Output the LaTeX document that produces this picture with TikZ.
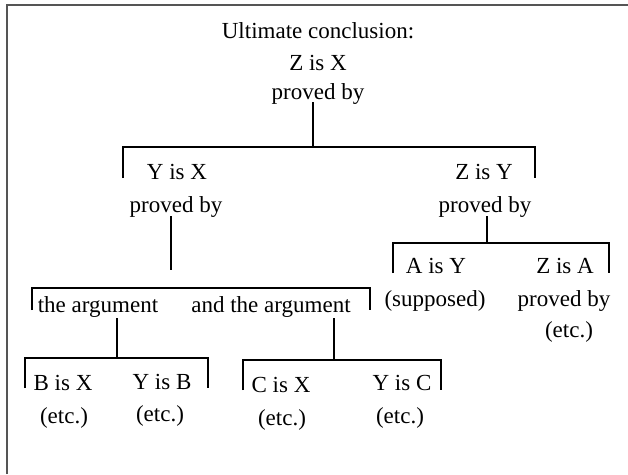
\documentclass[tikz,border=0pt]{standalone}
\usepackage{fontspec}
\setmainfont{Liberation Serif}
\usetikzlibrary{positioning}
\definecolor{framegray}{RGB}{85,85,85}

\begin{document}
\begin{tikzpicture}[x=1pt,y=-1pt]
  \tikzstyle{lbl}=[inner sep=0pt,anchor=base,font=\fontsize{23}{28}\selectfont]
  \tikzstyle{br}=[black,line width=2pt]
  \useasboundingbox (0,0) rectangle (628,474);

  % -- frame --
  \draw[framegray,line width=2.5pt] (7,474) -- (7,5) -- (628,5);

  % -- ultimate conclusion --
  \node[lbl] (ult) at (318,38) {Ultimate conclusion:};
  \node[lbl] (zx) at (318,70) {Z is X};
  \node[lbl] (zxby) at (318,99) {proved by};
  \coordinate (top1) at (123,147);
  \coordinate (top2) at (535,147);
  \draw[br] (top1 -| 313,0) ++(0,-45) -- (top1 -| 313,0);
  \draw[br] (top1) ++(0,31) -- (top1) -- (top2) -- ++(0,31);

  % -- Y is X --
  \node[lbl] (yx) at (177,179) {Y is X};
  \node[lbl] (yxby) at (176,212) {proved by};
  \coordinate (gap) at (171,270);
  \draw[br] (gap |- yxby.base) ++(0,4) -- (gap);

  % -- Z is Y --
  \node[lbl] (zy) at (484,179) {Z is Y};
  \node[lbl] (zyby) at (485,212) {proved by};
  \coordinate (zyl) at (393,243);
  \coordinate (zyr) at (609,243);
  \draw[br] (zyl -| 487,0) ++(0,-27) -- (zyl -| 487,0);
  \draw[br] (zyl) ++(0,30) -- (zyl) -- (zyr) -- ++(0,30);
  \node[lbl] (ay) at (436,273) {A is Y};
  \node[lbl] (aysup) at (435,306) {(supposed)};
  \node[lbl] (za) at (565,273) {Z is A};
  \node[lbl] (zaby) at (564,306) {proved by};
  \node[lbl] (zaetc) at (569,337) {(etc.)};

  % -- the two arguments --
  \coordinate (argl) at (32,288);
  \coordinate (argr) at (370,288);
  \draw[br] (argl) ++(0,22) -- (argl) -- (argr) -- ++(0,22);
  \node[lbl] (arg1) at (98,312) {the argument};
  \node[lbl] (arg2) at (271,312) {and the argument};

  % -- first argument --
  \coordinate (bl) at (25,358);
  \coordinate (bre) at (208,358);
  \draw[br] (arg1.base -| 117,0) ++(0,6) -- (bl -| 117,0);
  \draw[br] (bl) ++(0,30) -- (bl) -- (bre) -- ++(0,30);
  \node[lbl] (bx) at (63,390) {B is X};
  \node[lbl] (yb) at (162,389) {Y is B};
  \node[lbl] (bxetc) at (64,423) {(etc.)};
  \node[lbl] (ybetc) at (160,421) {(etc.)};

  % -- second argument --
  \coordinate (cl) at (243,360);
  \coordinate (cre) at (441,360);
  \draw[br] (arg2.base -| 334,0) ++(0,6) -- (cl -| 334,0);
  \draw[br] (cl) ++(0,30) -- (cl) -- (cre) -- ++(0,30);
  \node[lbl] (cx) at (281,392) {C is X};
  \node[lbl] (yc) at (402,390) {Y is C};
  \node[lbl] (cxetc) at (282,425) {(etc.)};
  \node[lbl] (ycetc) at (400,423) {(etc.)};
\end{tikzpicture}
\end{document}
